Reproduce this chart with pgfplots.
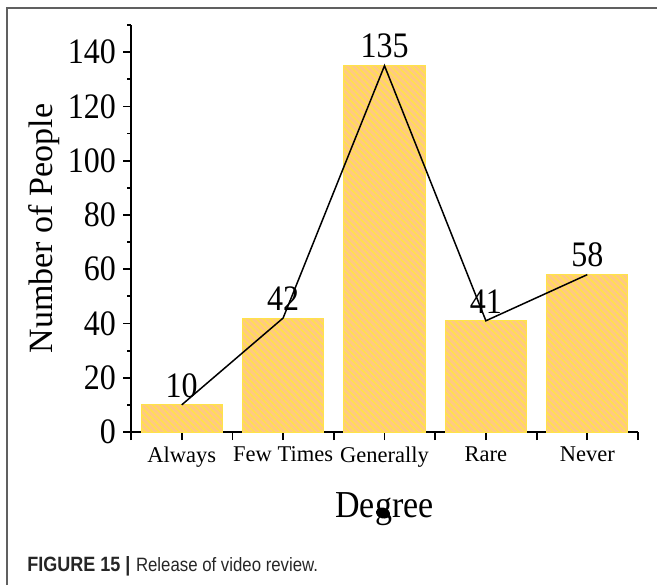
\documentclass[border=0pt]{standalone}
\usepackage{graphicx}
\usepackage{pgfplots}
\pgfplotsset{compat=1.18}
\usepackage{fontspec}
\setmainfont{Liberation Serif}
\newfontfamily\capfont{Liberation Sans}
\usetikzlibrary{patterns.meta}
\definecolor{barfill}{HTML}{FFC982}
\definecolor{barline}{HTML}{FFE24A}
\definecolor{framegray}{HTML}{606060}

\begin{document}
\begin{tikzpicture}
\path[use as bounding box] (0,0) rectangle (328.5pt,-292.5pt);
\draw[framegray, line width=1.2pt] (3.5pt,-292.5pt) -- (3.5pt,-4pt) -- (328.5pt,-4pt);
\begin{axis}[
  at={(65.5pt,-216pt)}, anchor=south west,
  scale only axis, width=253.5pt, height=203.5pt,
  xmin=-0.5, xmax=4.5, ymin=0, ymax=150,
  axis x line*=bottom, axis y line*=left,
  axis line style={line width=1pt, -},
  tick align=outside,
  major tick length=4pt, minor tick length=2pt,
  tick style={line width=0.9pt, black},
  xtick={-0.5,0,0.5,1,1.5,2,2.5,3,3.5,4,4.5},
  xticklabels={,Always,,Few Times,,Generally,,Rare,,Never,},
  ytick={0,20,...,140},
  minor ytick={10,30,...,150},
  /pgf/number format/assume math mode=true,
  yticklabel={\scalebox{1}[1.12]{\pgfmathprintnumber{\tick}}},
  yticklabel style={font=\fontsize{16}{19}\selectfont},
  xticklabel style={font=\fontsize{11.25}{13}\selectfont},
  xlabel={\scalebox{1}[1.12]{Degree}}, ylabel={Number of People},
  xlabel style={at={(axis description cs:0.5,-0.2088)}, anchor=base, font=\fontsize{17}{20}\selectfont},
  ylabel style={at={(axis description cs:-0.154,0.5)}, anchor=base, font=\fontsize{17}{20}\selectfont},
  clip=false,
]
\addplot[ybar, bar width=0.8, draw=barline, line width=0.5pt, fill=barfill,
  postaction={pattern={Lines[angle=-45,distance=2.4pt,line width=0.75pt]}, pattern color=barline},
  nodes near coords={\scalebox{1}[1.12]{\pgfmathprintnumber{\pgfplotspointmeta}}},
  nodes near coords align=vertical,
  every node near coord/.append style={font=\fontsize{16}{19}\selectfont, black, inner sep=3.5pt}]
  coordinates {(0,10) (1,42) (2,135) (3,41) (4,58)};
\addplot[black, line width=0.75pt, mark=none]
  coordinates {(0,10) (1,42) (2,135) (3,41) (4,58)};
\end{axis}
\fill[black, rotate around={-15:(191.5pt,-256.5pt)}] (191.5pt,-256.5pt) ellipse (3.5pt and 2.7pt);
\node[anchor=base west, inner sep=0pt, text=black!85, font=\capfont] at (13.5pt,-285.5pt)
  {\scalebox{1}[1.15]{{\fontsize{9}{11}\selectfont\bfseries FIGURE 15 |} {\fontsize{8.4}{10}\selectfont Release of video review.}}};
\end{tikzpicture}
\end{document}
